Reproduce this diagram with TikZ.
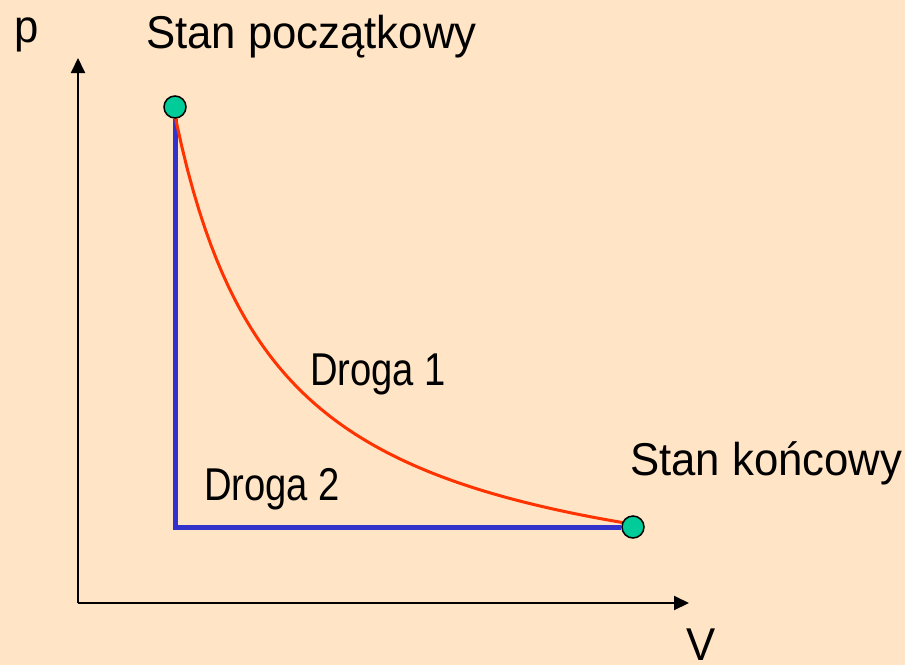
\documentclass[tikz,border=0pt]{standalone}
\usepackage{fontspec}
\setmainfont{Liberation Sans}[FakeStretch=0.95]
\newfontfamily\pathfont{Liberation Sans}[FakeStretch=0.83]
\usetikzlibrary{arrows.meta,positioning,backgrounds}

\definecolor{bgpeach}{HTML}{FFE4C6}
\definecolor{stategreen}{HTML}{00CC99}
\definecolor{pathblue}{HTML}{3333CC}
\definecolor{pathred}{HTML}{FF3300}

\begin{document}
\begin{tikzpicture}[x=1pt, y=-1pt, >={Triangle[length=15pt,width=14pt]},
    state/.style={circle, draw=black, line width=1.5pt, fill=stategreen, minimum size=22pt, inner sep=0pt},
    lbl/.style={anchor=base west, inner sep=0pt, font=\fontsize{46}{55}\selectfont},
    pathlbl/.style={lbl, font=\fontsize{46}{55}\pathfont}]
    \useasboundingbox (0,0) rectangle (905,665);

    % axes
    \coordinate (origin) at (78,603);
    \coordinate (ptop) at (78,58);
    \coordinate (vend) at (689,603);
    \draw[->, line width=2pt] (origin) -- (ptop);
    \draw[->, line width=2pt] (origin) -- (vend);
    \node[lbl] (plabel) at (14,42) {p};
    \node[lbl] (vlabel) at (686,660) {V};

    % states
    \node[state] (start) at (175,107) {};
    \node[state] (finish) at (633,527) {};
    \node[lbl] (startlabel) at (146,48) {Stan początkowy};
    \node[lbl] (finishlabel) at (630,475) {Stan końcowy};

    \begin{scope}[on background layer]
    \fill[bgpeach] (0,0) rectangle (905,665);
    % path 2
    \coordinate (corner) at (175,527);
    \draw[pathblue, line width=5pt] (start) -- (corner) -- (finish);
    % path 1 (isotherm)
    \draw[pathred, line width=3pt] (start.center)
        -- plot[domain=176:633, samples=80] (\x, {616.2-515.7/(\x-72)*100}) -- (finish.center);
    \end{scope}
    \node[pathlbl] (path2) at (204,500) {Droga 2};
    \node[pathlbl] (path1) at (310,385) {Droga 1};
\end{tikzpicture}
\end{document}
